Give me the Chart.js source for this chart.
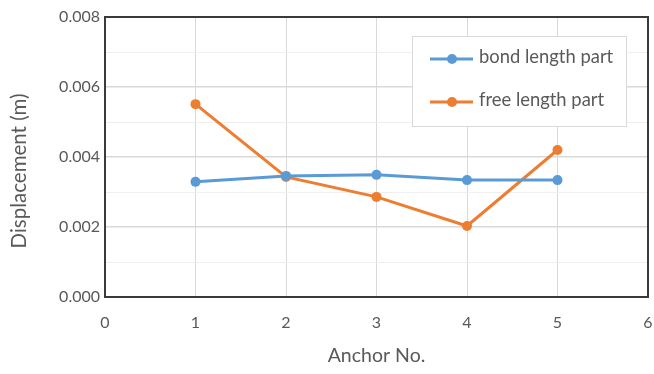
<!DOCTYPE html>
<html>
<head>
<meta charset="utf-8">
<script src="https://cdn.jsdelivr.net/npm/chart.js@4/dist/chart.umd.min.js"></script>
<style>
  html, body { margin: 0; padding: 0; background: #fff; }
  #wrap { width: 654px; height: 374px; position: relative; }
</style>
</head>
<body>
<div id="wrap"><canvas id="c" width="654" height="374"></canvas></div>
<script>
// Anchor numbers and measured displacements (m)
const anchors = [1, 2, 3, 4, 5];
const bondLength = [0.00329, 0.00346, 0.00349, 0.00334, 0.00334];
const freeLength = [0.00551, 0.00343, 0.00286, 0.00203, 0.00420];
const seriesNames = ['bond length part', 'free length part'];
const axisTitles = { x: 'Anchor No.', y: 'Displacement (m)' };

const FONT = 'Lato, "Open Sans", "Liberation Sans", sans-serif';
const TEXT = '#595959';

const toPoints = (xs, ys) => xs.map((x, i) => ({ x, y: ys[i] }));

// Dark frame around the plotting area
const frame = {
  id: 'frame',
  afterDatasetsDraw(chart) {
    const { ctx, chartArea: a } = chart;
    ctx.save();
    ctx.strokeStyle = '#3a3a3a';
    ctx.lineWidth = 2;
    ctx.strokeRect(a.left, a.top, a.right - a.left, a.bottom - a.top);
    ctx.restore();
  }
};

// Vertical axis title, set slightly below the middle of the plot
const yTitle = {
  id: 'yTitle',
  afterDraw(chart) {
    const { ctx, chartArea: a } = chart;
    ctx.save();
    ctx.translate(19, (a.top + a.bottom) / 2 + 14);
    ctx.rotate(-Math.PI / 2);
    ctx.fillStyle = TEXT;
    ctx.font = '20.5px ' + FONT;
    ctx.textAlign = 'center';
    ctx.textBaseline = 'middle';
    ctx.fillText(axisTitles.y, 0, 0);
    ctx.restore();
  }
};

// Boxed legend placed inside the plotting area, upper right
const innerLegend = {
  id: 'innerLegend',
  afterDraw(chart) {
    const { ctx } = chart;
    const x = 412, y = 36, w = 214, h = 90;
    ctx.save();
    ctx.fillStyle = '#ffffff';
    ctx.fillRect(x, y, w, h);
    ctx.strokeStyle = '#d9d9d9';
    ctx.lineWidth = 1;
    ctx.strokeRect(x + 0.5, y + 0.5, w, h);
    chart.data.datasets.forEach((ds, i) => {
      const cy = y + 23 + i * 43;
      ctx.strokeStyle = ds.borderColor;
      ctx.lineWidth = 3;
      ctx.beginPath();
      ctx.moveTo(x + 18, cy);
      ctx.lineTo(x + 61, cy);
      ctx.stroke();
      ctx.fillStyle = ds.borderColor;
      ctx.beginPath();
      ctx.arc(x + 40, cy, 5, 0, Math.PI * 2);
      ctx.fill();
      ctx.fillStyle = TEXT;
      ctx.font = '18.4px ' + FONT;
      ctx.textBaseline = 'middle';
      ctx.textAlign = 'left';
      ctx.fillText(ds.label, x + 67, cy - 2);
    });
    ctx.restore();
  }
};

new Chart(document.getElementById('c'), {
  type: 'line',
  data: {
    datasets: [
      {
        label: seriesNames[0],
        data: toPoints(anchors, bondLength),
        borderColor: '#5B9BD5',
        backgroundColor: '#5B9BD5',
        borderWidth: 3,
        pointRadius: 5,
        pointBorderWidth: 0,
        tension: 0
      },
      {
        label: seriesNames[1],
        data: toPoints(anchors, freeLength),
        borderColor: '#ED7D31',
        backgroundColor: '#ED7D31',
        borderWidth: 3,
        pointRadius: 5,
        pointBorderWidth: 0,
        tension: 0
      }
    ]
  },
  options: {
    responsive: false,
    animation: false,
    layout: { padding: { top: 17, right: 6, bottom: 1, left: 2 } },
    plugins: { legend: { display: false }, tooltip: { enabled: false } },
    scales: {
      x: {
        type: 'linear',
        min: 0, max: 6,
        afterFit: (s) => { s.paddingRight = 0; s.paddingLeft = 0; s.height = 76; },
        ticks: { stepSize: 1, color: TEXT, font: { family: FONT, size: 16 }, padding: 16 },
        grid: { color: '#d9d9d9', lineWidth: 1, drawTicks: false },
        border: { display: false },
        title: { display: true, text: axisTitles.x, color: TEXT, font: { family: FONT, size: 19.5 }, padding: { top: 4, bottom: 6 } }
      },
      y: {
        type: 'linear',
        min: 0, max: 0.008,
        afterFit: (s) => { s.width = 103; s.paddingTop = 0; s.paddingBottom = 0; },
        ticks: {
          stepSize: 0.001,
          color: TEXT,
          font: { family: FONT, size: 16 },
          padding: 5,
          callback: (v) => {
            const k = Math.round(v * 1000);
            return k % 2 === 0 ? v.toFixed(3) : '';
          }
        },
        grid: {
          drawTicks: false,
          color: (c) => (Math.round(c.tick.value * 1000) % 2 === 0 ? '#d9d9d9' : '#efefef'),
          lineWidth: (c) => (Math.round(c.tick.value * 1000) % 2 === 0 ? 1.5 : 1)
        },
        border: { display: false },
        title: { display: false }
      }
    }
  },
  plugins: [frame, yTitle, innerLegend]
});
</script>
</body>
</html>
